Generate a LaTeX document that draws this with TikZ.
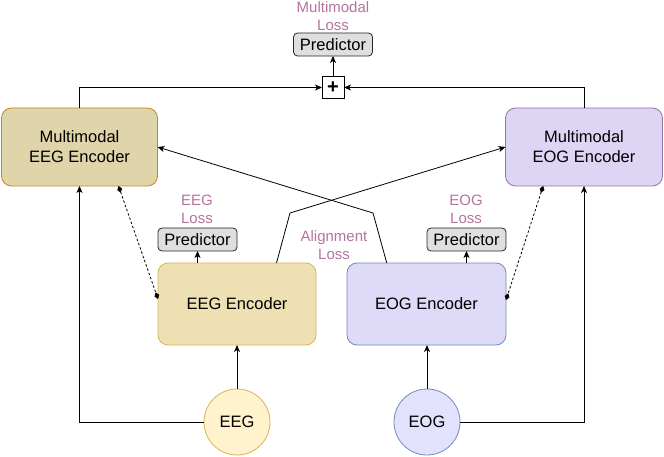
\documentclass[tikz,border=0pt]{standalone}
\usepackage{fontspec}
\setmainfont{Liberation Sans}
\usetikzlibrary{arrows.meta,calc,shapes.geometric}
\definecolor{mmeegfill}{HTML}{E0D4AA}
\definecolor{mmeegdraw}{HTML}{C8841E}
\definecolor{eegfill}{HTML}{EEE0B2}
\definecolor{eegdraw}{HTML}{D6B656}
\definecolor{mmeogfill}{HTML}{DDD5F3}
\definecolor{mmeogdraw}{HTML}{9673A6}
\definecolor{eogfill}{HTML}{DEDAF8}
\definecolor{eogdraw}{HTML}{6C8EBF}
\definecolor{eegcfill}{HTML}{FFF2CC}
\definecolor{eogcfill}{HTML}{E3E2FC}
\definecolor{losspink}{HTML}{B5739D}
\definecolor{predfill}{HTML}{DFDFDF}
\begin{document}
\begin{tikzpicture}[x=1pt,y=-1pt,
  every node/.style={inner sep=0pt,outer sep=0pt},
  bigbox/.style={rectangle,rounded corners=10pt,line width=0.8pt,align=center,font=\fontsize{16.5}{20}\selectfont},
  circ/.style={circle,minimum size=66pt,line width=0.8pt,font=\fontsize{16.5}{20}\selectfont},
  predbox/.style={rectangle,rounded corners=4pt,draw=black!85,fill=predfill,line width=0.8pt,minimum width=79pt,minimum height=23pt,font=\fontsize{16.5}{20}\selectfont},
  losslbl/.style={text=losspink,align=center,font=\fontsize{15}{18}\selectfont},
  conn/.style={line width=0.8pt,draw=black},
  arr/.style={conn,-{Stealth[length=7pt,width=6pt,inset=2pt]}},
  dia/.style={conn,dashed,dash pattern=on 2.5pt off 2pt,{Diamond[length=7pt,width=5pt]}-{Diamond[length=7pt,width=5pt]}}
]
\useasboundingbox (0,0) rectangle (664,457);

\node[bigbox,fill=mmeegfill,draw=mmeegdraw,minimum width=156pt,minimum height=78pt] (mmeeg) at (79.5,147) {Multimodal\\EEG Encoder};
\node[bigbox,fill=mmeogfill,draw=mmeogdraw,minimum width=157pt,minimum height=78pt] (mmeog) at (584,147) {Multimodal\\EOG Encoder};
\node[bigbox,fill=eegfill,draw=eegdraw,minimum width=158pt,minimum height=82pt] (eegenc) at (237,304) {EEG Encoder};
\node[bigbox,fill=eogfill,draw=eogdraw,minimum width=159pt,minimum height=82pt] (eogenc) at (426.5,304) {EOG Encoder};
\node[circ,fill=eegcfill,draw=eegdraw] (eeg) at (237,422) {EEG};
\node[circ,fill=eogcfill,draw=eogdraw] (eog) at (427,422) {EOG};

\node[rectangle,draw=black,fill=white,line width=0.8pt,minimum size=22pt,font=\fontsize{20}{20}\selectfont\bfseries] (plus) at (333,87.5) {+};
\node[predbox] (predtop) at (333,44.5) {Predictor};
\node[predbox] (predeeg) at (197.5,239.5) {Predictor};
\node[predbox] (predeog) at (466.5,239.5) {Predictor};

\node[losslbl] (lossmm) at (333,16) {Multimodal\\Loss};
\node[losslbl] (losseeg) at (197,209) {EEG\\Loss};
\node[losslbl] (losseog) at (466,209) {EOG\\Loss};
\node[losslbl] (lossal) at (334,245) {Alignment\\Loss};

% top fusion
\draw[arr] (mmeeg.north) |- (plus.west);
\draw[arr] (mmeog.north) |- (plus.east);
\draw[arr] (plus.north) -- (predtop.south);

% inputs
\draw[arr] (eeg.west) -| (mmeeg.south);
\draw[arr] (eog.east) -| (mmeog.south);
\draw[arr] (eeg.north) -- (eegenc.south);
\draw[arr] (eog.north) -- (eogenc.south -| eog.north);

% unimodal predictors
\draw[arr] (eegenc.north -| predeeg.south) -- (predeeg.south);
\draw[arr] (eogenc.north -| predeog.south) -- (predeog.south);

% dotted links
\draw[dia] ($(mmeeg.south west)!0.75!(mmeeg.south east)$) -- ([yshift=5pt]eegenc.west);
\draw[dia] ($(mmeog.south west)!0.24!(mmeog.south east)$) -- ([yshift=4pt]eogenc.east);

% crossing alignment lines
\coordinate (bendA) at (290,213);
\coordinate (bendB) at (373,213);
\draw[arr] ($(eegenc.north west)!0.75!(eegenc.north east)$) -- (bendA) -- (mmeog.west);
\draw[arr] ($(eogenc.north west)!0.25!(eogenc.north east)$) -- (bendB) -- (mmeeg.east);
\end{tikzpicture}
\end{document}
